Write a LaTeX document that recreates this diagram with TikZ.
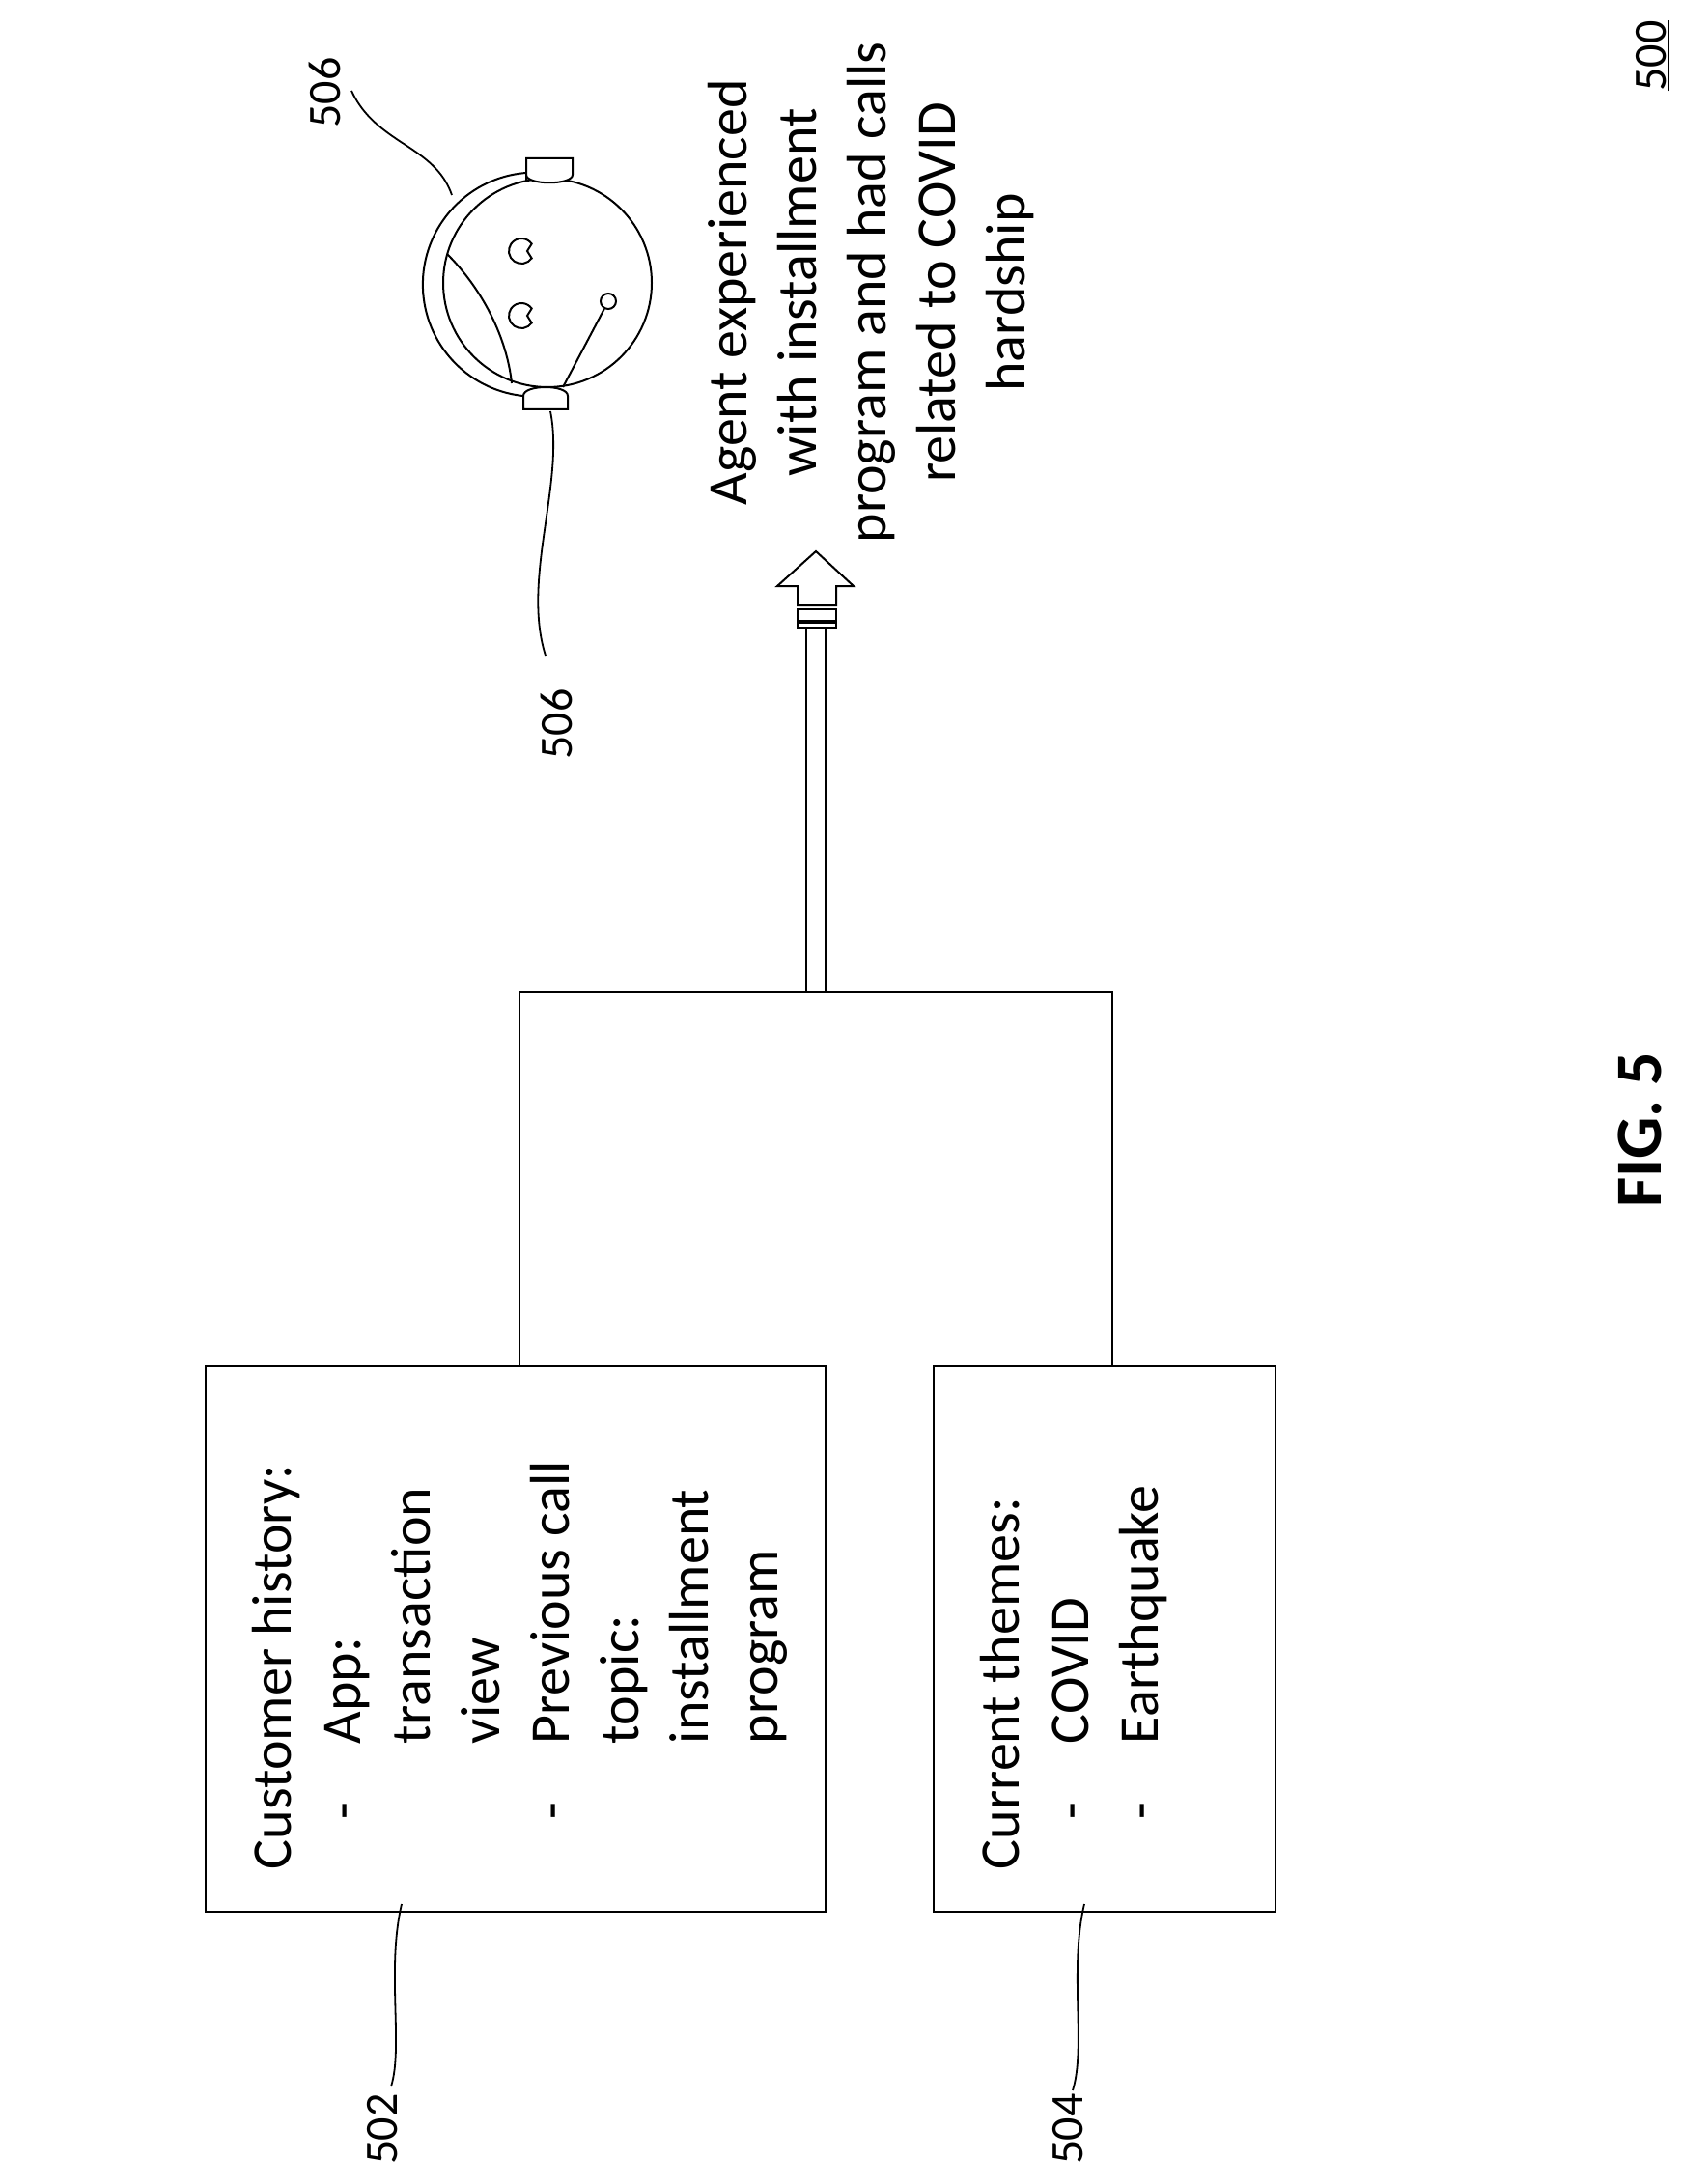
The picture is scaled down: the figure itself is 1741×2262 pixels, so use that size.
\documentclass[tikz,border=0pt]{standalone}
\usepackage{fontspec}
\setmainfont{Carlito}
\usetikzlibrary{positioning,calc}

\begin{document}
\begin{tikzpicture}[x=0.5pt, y=-0.5pt, line width=1pt]

    % --- Styles ---
    \tikzset{
        box/.style={draw, line width=1.2pt, inner sep=0pt},
        boxtext/.style={rotate=90, anchor=north west, inner sep=0pt, align=left,
            font=\fontsize{29}{36}\selectfont},
        reflabel/.style={rotate=90, inner sep=0pt, font=\fontsize{24}{28}\selectfont},
        leader/.style={line width=0.9pt}
    }

    \useasboundingbox (0,0) rectangle (1741,2262);

    % --- Boxes ---
    \node[box, minimum width=321pt, minimum height=282.5pt] (hist) at (534,1697.5) {};
    \node[box, minimum width=177pt, minimum height=282.5pt] (themes) at (1144,1697.5) {};

    \node[boxtext] (histtxt) at (250,1937) {%
        \begin{tabular}{@{\hspace{26pt}}p{39pt}@{}l}
        \multicolumn{2}{@{}l}{Customer history:}\\
        - & App:\\
          & transaction\\
          & view\\
        - & Previous call\\
          & topic:\\
          & installment\\
          & program
        \end{tabular}};

    \node[boxtext] (themestxt) at (1004,1937) {%
        \begin{tabular}{@{\hspace{26pt}}p{39pt}@{}l}
        \multicolumn{2}{@{}l}{Current themes:}\\
        - & COVID\\
        - & Earthquake
        \end{tabular}};

    % --- Connectors ---
    \coordinate (join) at (845,1027);
    \coordinate (arrowbase) at (845,650);
    \draw ([xshift=2pt]hist.north) |- (join) -| ([xshift=4pt]themes.north);
    \draw ([xshift=-5]join) -- ([xshift=-5]arrowbase);
    \draw ([xshift=5]join) -- ([xshift=5]arrowbase);

    % block arrow
    \draw[fill=white] (845,571) -- (884,607) -- (866,607) -- (866,627)
        -- (826,627) -- (826,607) -- (805,607) -- cycle;
    \draw[fill=white] (826,631) rectangle (866,643);
    \draw[fill=white] (826,645) rectangle (866,650);

    % --- Result ---
    \node[rotate=90, align=center, inner sep=0pt, font=\fontsize{29}{36}\selectfont]
        (result) at (902,303) {Agent experienced\\with installment\\program and had calls\\related to COVID\\hardship};

    % --- Agent with headset ---
    \node[circle, draw, minimum size=108pt, inner sep=0pt] (head) at (567,293) {};
    \draw (545,179) arc[start angle=-94.4, end angle=-265.6, radius=116];
    \draw[fill=white] (545,188) -- (545,164) -- (593,164) -- (593,181)
        .. controls (593,192) and (545,192) .. (545,181) -- cycle;
    \draw[fill=white] (542,424) -- (588,424) -- (588,410)
        .. controls (588,398) and (542,398) .. (542,410) -- cycle;
    \foreach \ey in {260,327}{
        \draw (540,\ey) ++(35:13) arc[start angle=35, end angle=325, radius=13]
            -- (546,\ey) -- cycle;
    }
    \draw (463,263) .. controls (500,300) and (525,350) .. (530,397);
    \node[circle, draw, minimum size=8pt, inner sep=0pt] (mic) at (630,312) {};
    \draw (583,401) -- (mic);

    % --- Reference numerals ---
    \node[reflabel] (n506a) at (336,96) {506};
    \node[reflabel] (n506b) at (576,750) {506};
    \node[reflabel] (n502) at (396,2205) {502};
    \node[reflabel] (n504) at (1106,2205) {504};
    \node[reflabel] (n500) at (1712,58) {\underline{500}};
    \node[rotate=90, inner sep=0pt, font=\fontsize{34}{40}\selectfont\bfseries] (fig) at (1698,1170) {FIG. 5};

    \draw[leader] (364,94) .. controls (390,150) and (450,150) .. (468,202);
    \draw[leader] (570,426) .. controls (585,500) and (540,600) .. (565,679);
    \draw[leader] (416,1972) .. controls (400,2040) and (418,2120) .. (405,2161);
    \draw[leader] (1123,1972) .. controls (1107,2040) and (1125,2120) .. (1111,2165);

\end{tikzpicture}
\end{document}
